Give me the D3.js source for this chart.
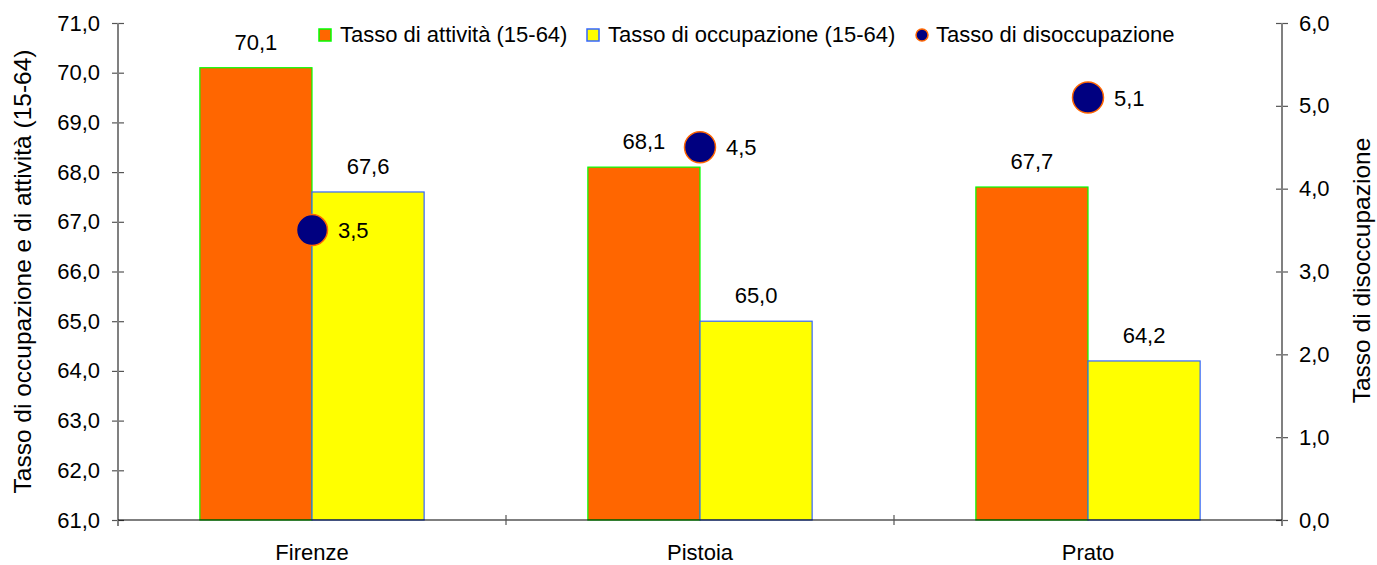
<!DOCTYPE html>
<html>
<head>
<meta charset="utf-8">
<script src="https://cdn.jsdelivr.net/npm/d3@7"></script>
<style>
  html, body { margin: 0; padding: 0; background: #ffffff; }
  svg { display: block; font-family: Arial, "Liberation Sans", sans-serif; }
</style>
</head>
<body>
<svg id="chart" width="1377" height="565"></svg>
<script>
// Province and rates
const categories = ["Firenze", "Pistoia", "Prato"];
const tassoAttivita = [70.1, 68.1, 67.7];
const tassoOccupazione = [67.6, 65.0, 64.2];
const tassoDisoccupazione = [3.5, 4.5, 5.1];
const leftTicks = [61, 62, 63, 64, 65, 66, 67, 68, 69, 70, 71];
const rightTicks = [0, 1, 2, 3, 4, 5, 6];
const seriesNames = ["Tasso di attività (15-64)", "Tasso di occupazione (15-64)", "Tasso di disoccupazione"];

const fmt = v => d3.format(".1f")(v).replace(".", ",");

const svg = d3.select("#chart");
const m = { left: 118, right: 1282, top: 23, bottom: 520 };
const FS = 22;
const TFS = 24.5;

const x = d3.scaleBand().domain(categories).range([m.left, m.right]);
const yL = d3.scaleLinear().domain([61, 71]).range([m.bottom, m.top]);
const yR = d3.scaleLinear().domain([0, 6]).range([m.bottom, m.top]);
const barW = x.bandwidth() * 0.289;

const sub = d3.scaleBand().domain([0, 1]).range([-barW, barW]);

// bars
const groups = svg.append("g").selectAll("g").data(categories).join("g")
  .attr("transform", d => `translate(${x(d) + x.bandwidth() / 2},0)`);

groups.append("rect")
  .attr("x", sub(0)).attr("width", barW)
  .attr("y", (d, i) => yL(tassoAttivita[i]))
  .attr("height", (d, i) => yL(61) - yL(tassoAttivita[i]))
  .attr("fill", "#FF6600").attr("stroke", "#00FF00").attr("stroke-width", 1.2);

groups.append("rect")
  .attr("x", sub(1)).attr("width", barW)
  .attr("y", (d, i) => yL(tassoOccupazione[i]))
  .attr("height", (d, i) => yL(61) - yL(tassoOccupazione[i]))
  .attr("fill", "#FFFF00").attr("stroke", "#3366FF").attr("stroke-width", 1.2);

// bar value labels
groups.append("text")
  .attr("x", sub(0) + barW / 2)
  .attr("y", (d, i) => yL(tassoAttivita[i]) - 18)
  .attr("text-anchor", "middle").attr("font-size", FS)
  .text((d, i) => fmt(tassoAttivita[i]));
groups.append("text")
  .attr("x", sub(1) + barW / 2)
  .attr("y", (d, i) => yL(tassoOccupazione[i]) - 18)
  .attr("text-anchor", "middle").attr("font-size", FS)
  .text((d, i) => fmt(tassoOccupazione[i]));

// axes
const axisL = d3.axisLeft(yL).tickValues(leftTicks).tickFormat(fmt).tickSize(0).tickPadding(18);
const gL = svg.append("g").attr("transform", `translate(${m.left},0)`).call(axisL);
gL.select(".domain").remove();
gL.selectAll("text").attr("font-size", FS).attr("fill", "#000").attr("font-family", "Arial, 'Liberation Sans', sans-serif");
gL.selectAll(".tick").append("line").attr("x1", -6).attr("x2", 6).attr("stroke", "#555").attr("stroke-width", 1.2);
svg.append("line").attr("x1", m.left).attr("x2", m.left).attr("y1", m.top).attr("y2", m.bottom + 6)
  .attr("stroke", "#808080").attr("stroke-width", 2);

const axisR = d3.axisRight(yR).tickValues(rightTicks).tickFormat(fmt).tickSize(0).tickPadding(17);
const gR = svg.append("g").attr("transform", `translate(${m.right},0)`).call(axisR);
gR.select(".domain").remove();
gR.selectAll("text").attr("font-size", FS).attr("fill", "#000").attr("font-family", "Arial, 'Liberation Sans', sans-serif");
gR.selectAll(".tick").append("line").attr("x1", -6).attr("x2", 6).attr("stroke", "#555").attr("stroke-width", 1.2);
svg.append("line").attr("x1", m.right).attr("x2", m.right).attr("y1", m.top).attr("y2", m.bottom + 6)
  .attr("stroke", "#808080").attr("stroke-width", 2);

// category axis
svg.append("line").attr("x1", m.left).attr("x2", m.right).attr("y1", m.bottom).attr("y2", m.bottom)
  .attr("stroke", "#000").attr("stroke-width", 1.2);
svg.append("g").selectAll("line").data(categories.slice(1)).join("line")
  .attr("x1", d => x(d)).attr("x2", d => x(d))
  .attr("y1", m.bottom - 5).attr("y2", m.bottom + 5)
  .attr("stroke", "#555").attr("stroke-width", 1.2);
svg.append("g").selectAll("text").data(categories).join("text")
  .attr("x", d => x(d) + x.bandwidth() / 2).attr("y", 560)
  .attr("text-anchor", "middle").attr("font-size", FS).text(d => d);

// unemployment points on the right axis
const dots = svg.append("g").selectAll("g").data(categories).join("g")
  .attr("transform", (d, i) => `translate(${x(d) + x.bandwidth() / 2},${yR(tassoDisoccupazione[i])})`);
dots.append("circle").attr("r", 15.5).attr("fill", "#000080").attr("stroke", "#FF6600").attr("stroke-width", 1.5);
dots.append("text").attr("x", 26).attr("y", 8).attr("font-size", FS)
  .text((d, i) => fmt(tassoDisoccupazione[i]));

// axis titles
svg.append("text").attr("transform", `translate(31,${(m.top + m.bottom) / 2 + 0}) rotate(-90)`)
  .attr("text-anchor", "middle").attr("font-size", TFS)
  .text("Tasso di occupazione e di attività (15-64)");
svg.append("text").attr("transform", `translate(1370,${(m.top + m.bottom) / 2 - 1}) rotate(-90)`)
  .attr("text-anchor", "middle").attr("font-size", TFS)
  .text("Tasso di disoccupazione");

// legend
const leg = svg.append("g");
leg.append("rect").attr("x", 319).attr("y", 29).attr("width", 12).attr("height", 12)
  .attr("fill", "#FF6600").attr("stroke", "#00FF00").attr("stroke-width", 1.5);
leg.append("text").attr("x", 340).attr("y", 42).attr("font-size", FS).text(seriesNames[0]);
leg.append("rect").attr("x", 587).attr("y", 29).attr("width", 12).attr("height", 12)
  .attr("fill", "#FFFF00").attr("stroke", "#3366FF").attr("stroke-width", 1.5);
leg.append("text").attr("x", 608).attr("y", 42).attr("font-size", FS).text(seriesNames[1]);
leg.append("circle").attr("cx", 922).attr("cy", 35).attr("r", 6)
  .attr("fill", "#000080").attr("stroke", "#FF6600").attr("stroke-width", 1.5);
leg.append("text").attr("x", 936).attr("y", 42).attr("font-size", FS).text(seriesNames[2]);
</script>
</body>
</html>
